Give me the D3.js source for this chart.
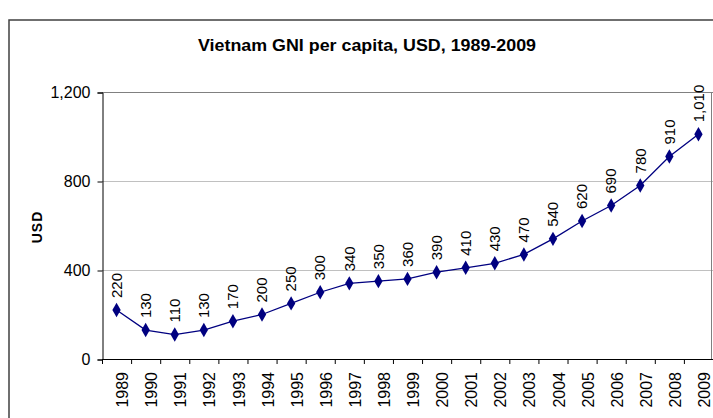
<!DOCTYPE html>
<html>
<head>
<meta charset="utf-8">
<script src="https://cdn.jsdelivr.net/npm/d3@7"></script>
<style>
  body { margin: 0; background: #fff; }
  text { font-family: "Liberation Sans", Arial, sans-serif; }
</style>
</head>
<body>
<svg id="chart" width="713" height="418"></svg>
<script>
// data
var years = ["1989","1990","1991","1992","1993","1994","1995","1996","1997","1998","1999",
             "2000","2001","2002","2003","2004","2005","2006","2007","2008","2009"];
var gni = [220,130,110,130,170,200,250,300,340,350,360,390,410,430,470,540,620,690,780,910,1010];
var yTicks = [0, 400, 800, 1200];

var svg = d3.select("#chart");
var plot = { left: 102, right: 713, top: 92, bottom: 359 };

// outer chart border (runs off the right/bottom of the picture)
svg.append("rect")
  .attr("x", 9).attr("y", 20)
  .attr("width", 720).attr("height", 420)
  .attr("fill", "none")
  .attr("stroke", "#404040")
  .attr("stroke-width", 1.5);

svg.append("text")
  .attr("x", 367).attr("y", 51)
  .attr("text-anchor", "middle")
  .attr("textLength", 338)
  .attr("lengthAdjust", "spacingAndGlyphs")
  .style("font-size", "17px")
  .style("font-weight", "bold")
  .text("Vietnam GNI per capita, USD, 1989-2009");

var xScale = d3.scaleBand().domain(years).range([plot.left, plot.right]);
var yScale = d3.scaleLinear().domain([0, 1200]).range([plot.bottom, plot.top]);

// gridlines
svg.append("g").selectAll("line")
  .data(yTicks.filter(function(d) { return d > 0; }))
  .enter().append("line")
  .attr("x1", plot.left).attr("x2", plot.right)
  .attr("y1", function(d) { return yScale(d) + 0.5; })
  .attr("y2", function(d) { return yScale(d) + 0.5; })
  .attr("stroke", function(d) { return d === 1200 ? "#808080" : "#c0c0c0"; })
  .attr("stroke-width", 1);

// plot area right edge
svg.append("line")
  .attr("x1", 711.5).attr("x2", 711.5)
  .attr("y1", plot.top).attr("y2", plot.bottom)
  .attr("stroke", "#808080");

// y axis
var yAxis = d3.axisLeft(yScale).tickValues(yTicks).tickSize(5).tickPadding(7)
  .tickFormat(d3.format(","));
var gy = svg.append("g")
  .attr("transform", "translate(" + (plot.left + 0.5) + ",0.5)")
  .call(yAxis);
gy.select(".domain").attr("stroke", "#000");
gy.selectAll(".tick line").attr("stroke", "#000");
gy.selectAll(".tick text")
  .style("font-size", "16px")
  .attr("fill", "#000")
  .attr("font-family", null);

// x axis - ticks at category boundaries
svg.append("line")
  .attr("x1", plot.left).attr("x2", plot.right)
  .attr("y1", plot.bottom + 0.5).attr("y2", plot.bottom + 0.5)
  .attr("stroke", "#000");
svg.append("g").selectAll("line")
  .data(years)
  .enter().append("line")
  .attr("x1", function(d) { return xScale(d) + 0.5; })
  .attr("x2", function(d) { return xScale(d) + 0.5; })
  .attr("y1", plot.bottom).attr("y2", plot.bottom + 5)
  .attr("stroke", "#000");

svg.append("g").selectAll("text")
  .data(years)
  .enter().append("text")
  .attr("transform", function(d) {
    return "translate(" + (xScale(d) + xScale.bandwidth() / 2 + 6) + "," + (plot.bottom + 13) + ") rotate(-90)";
  })
  .attr("dy", "0.35em")
  .attr("text-anchor", "end")
  .style("font-size", "16px")
  .text(function(d) { return d; });

// y axis title
svg.append("text")
  .attr("transform", "translate(42,227) rotate(-90)")
  .attr("text-anchor", "middle")
  .style("font-size", "14px")
  .style("font-weight", "bold")
  .style("letter-spacing", "1px")
  .text("USD");

// line + markers
var cx = function(d, i) { return xScale(years[i]) + xScale.bandwidth() / 2; };
var line = d3.line().x(cx).y(function(d) { return yScale(d); });

svg.append("path")
  .datum(gni)
  .attr("d", line)
  .attr("fill", "none")
  .attr("stroke", "#000080")
  .attr("stroke-width", 1.3);

svg.append("g").selectAll("path")
  .data(gni)
  .enter().append("path")
  .attr("d", d3.symbol().type(d3.symbolDiamond).size(60))
  .attr("transform", function(d, i) { return "translate(" + cx(d, i) + "," + yScale(d) + ")"; })
  .attr("fill", "#000080");

// data labels
svg.append("g").selectAll("text")
  .data(gni)
  .enter().append("text")
  .attr("transform", function(d, i) {
    return "translate(" + cx(d, i) + "," + (yScale(d) - 12) + ") rotate(-90)";
  })
  .attr("dy", "0.35em")
  .attr("text-anchor", "start")
  .style("font-size", "15px")
  .text(function(d) { return d3.format(",")(d); });
</script>
</body>
</html>
